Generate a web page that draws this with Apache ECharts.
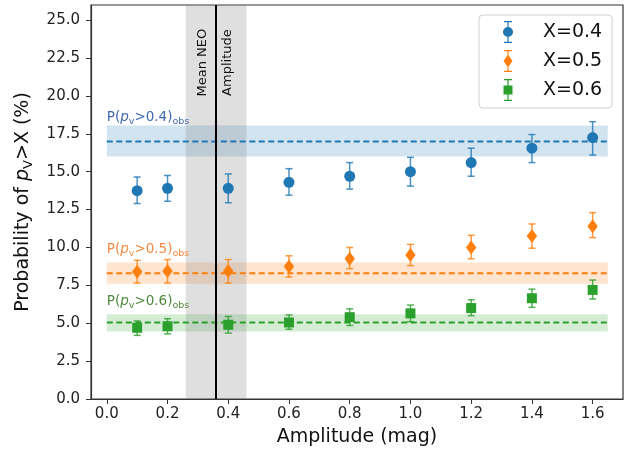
<!DOCTYPE html>
<html><head><meta charset="utf-8">
<script src="https://cdn.jsdelivr.net/npm/echarts@6/dist/echarts.min.js"></script>
<style>html,body{margin:0;padding:0;background:#fff}#c{width:631px;height:451px}</style>
</head><body><div id="c"></div>
<script>
// ---- data ----
const amplitudes = [0.1, 0.2, 0.4, 0.6, 0.8, 1.0, 1.2, 1.4, 1.6];
const p04   = [13.75, 13.9, 13.9, 14.3, 14.7, 15.0, 15.6, 16.55, 17.25];
const p04Lo = [12.9, 13.05, 12.95, 13.45, 13.85, 14.05, 14.7, 15.6, 16.1];
const p04Hi = [14.65, 14.75, 14.85, 15.2, 15.6, 15.95, 16.55, 17.45, 18.3];
const p05   = [8.4, 8.45, 8.45, 8.75, 9.25, 9.5, 10.0, 10.75, 11.4];
const p05Lo = [7.65, 7.65, 7.65, 8.05, 8.6, 8.8, 9.25, 9.95, 10.65];
const p05Hi = [9.15, 9.2, 9.2, 9.45, 10.0, 10.2, 10.8, 11.55, 12.3];
const p06   = [4.7, 4.8, 4.9, 5.05, 5.4, 5.65, 6.0, 6.65, 7.2];
const p06Lo = [4.2, 4.3, 4.35, 4.6, 4.85, 5.1, 5.5, 6.05, 6.6];
const p06Hi = [5.15, 5.3, 5.45, 5.55, 5.95, 6.2, 6.55, 7.25, 7.85];
const seriesNames = ['X=0.4', 'X=0.5', 'X=0.6'];
const obsThresholds = ['0.4', '0.5', '0.6'];
const obsVal = [17.0, 8.3, 5.05];
const obsLo  = [16.0, 7.6, 4.45];
const obsHi  = [18.05, 9.0, 5.6];
const obsRange = [0, 1.65];
const obsLabelY = [18.6, 9.85, 6.45];
const neoMean = 0.36;
const neoRange = [0.26, 0.46];
const xTicks = [0.0, 0.2, 0.4, 0.6, 0.8, 1.0, 1.2, 1.4, 1.6];
const yTicks = [0, 2.5, 5, 7.5, 10, 12.5, 15, 17.5, 20, 22.5, 25];

// ---- styles ----
const colors = ['#1f77b4', '#ff7f0e', '#2ca02c'];
const bandColors = ['rgba(31,119,180,0.2)', 'rgba(255,127,14,0.2)', 'rgba(44,160,44,0.2)'];
const labelColors = ['#4068b0', '#f58a42', '#4f8a3c'];
const markers = ['circle', 'diamond', 'square'];
const FONT = 'DejaVu Sans';
const legendIcons = [
  'path://M1,0H9V1.2H1Z M4.4,1.2H5.6V6H4.4Z M4.4,16H5.6V20.8H4.4Z M1,20.8H9V22H1Z M0,11A5,5 0 1,1 10,11A5,5 0 1,1 0,11Z',
  'path://M1,0H9V1.2H1Z M4.4,1.2H5.6V4.5H4.4Z M4.4,17.5H5.6V20.8H4.4Z M1,20.8H9V22H1Z M5,4.5L9.5,11L5,17.5L0.5,11Z',
  'path://M1,0H9V1.2H1Z M4.4,1.2H5.6V6.5H4.4Z M4.4,15.5H5.6V20.8H4.4Z M1,20.8H9V22H1Z M0.5,6.5H9.5V15.5H0.5Z'
];

const groups = [[p04, p04Lo, p04Hi], [p05, p05Lo, p05Hi], [p06, p06Lo, p06Hi]];

function makeRender(idx) {
  const col = colors[idx];
  return function (params, api) {
    const x = api.value(0);
    const p = api.coord([x, api.value(1)]);
    const pl = api.coord([x, api.value(2)]);
    const ph = api.coord([x, api.value(3)]);
    const cap = 3.5;
    const es = { stroke: col, lineWidth: 1.5, opacity: 0.8 };
    const children = [
      { type: 'line', shape: { x1: p[0], y1: pl[1], x2: p[0], y2: ph[1] }, style: es },
      { type: 'line', shape: { x1: p[0] - cap, y1: pl[1], x2: p[0] + cap, y2: pl[1] }, style: es },
      { type: 'line', shape: { x1: p[0] - cap, y1: ph[1], x2: p[0] + cap, y2: ph[1] }, style: es }
    ];
    const ms = { fill: col };
    if (markers[idx] === 'circle') {
      children.push({ type: 'circle', shape: { cx: p[0], cy: p[1], r: 5.5 }, style: ms });
    } else if (markers[idx] === 'diamond') {
      children.push({ type: 'polygon', shape: { points: [[p[0], p[1] - 7], [p[0] + 5.2, p[1]], [p[0], p[1] + 7], [p[0] - 5.2, p[1]]] }, style: ms });
    } else {
      children.push({ type: 'rect', shape: { x: p[0] - 5, y: p[1] - 5, width: 10, height: 10 }, style: ms });
    }
    return { type: 'group', children };
  };
}

const labelRich = {
  n: { fontFamily: FONT, fontSize: 13.5, lineHeight: 18, verticalAlign: 'middle' },
  i: { fontFamily: FONT, fontSize: 13.5, lineHeight: 18, fontStyle: 'italic', verticalAlign: 'middle' },
  s: { fontFamily: FONT, fontSize: 9.5, lineHeight: 9, verticalAlign: 'bottom' }
};

const series = [];
// background bands and annotations
series.push({
  type: 'line', name: 'bands', data: [], silent: true, z: 1,
  markArea: {
    silent: true,
    data: obsVal.map((v, i) => [
      { coord: [obsRange[0], obsLo[i]], itemStyle: { color: bandColors[i] } },
      { coord: [obsRange[1], obsHi[i]] }
    ]).concat([[
      { xAxis: neoRange[0], itemStyle: { color: 'rgba(128,128,128,0.25)' } },
      { xAxis: neoRange[1] }
    ]])
  },
  markLine: {
    silent: true, symbol: 'none', label: { show: false },
    lineStyle: { color: '#000', width: 2, type: 'solid' },
    data: [{ xAxis: neoMean }]
  },
  markPoint: {
    silent: true, symbol: 'circle', symbolSize: 0,
    data: obsThresholds.map((t, i) => ({
      coord: [obsRange[0], obsLabelY[i]],
      label: {
        show: true, position: 'right', distance: 0,
        formatter: '{n|P(}{i|p}{s|v}{n|>' + t + ')}{s|obs}',
        color: labelColors[i], rich: labelRich
      }
    })).concat([
      { coord: [0.317, 22.2], label: { show: true, position: 'inside', rotate: 90, formatter: 'Mean NEO', color: '#111', fontFamily: FONT, fontSize: 13 } },
      { coord: [0.397, 22.2], label: { show: true, position: 'inside', rotate: 90, formatter: 'Amplitude', color: '#111', fontFamily: FONT, fontSize: 13 } }
    ])
  }
});
// dashed observed lines
obsVal.forEach((v, i) => {
  series.push({
    type: 'line', name: 'obs' + obsThresholds[i], silent: true, z: 2,
    data: [[obsRange[0], v], [obsRange[1], v]],
    symbol: 'none',
    lineStyle: { color: colors[i], width: 2, type: [6, 3.5] }
  });
});
// error bar points
groups.forEach((g, i) => {
  series.push({
    type: 'custom', name: seriesNames[i], z: 5,
    renderItem: makeRender(i),
    encode: { x: 0, y: [1, 2, 3] },
    itemStyle: { color: colors[i] },
    data: amplitudes.map((x, k) => [x, g[0][k], g[1][k], g[2][k]])
  });
});

const chart = echarts.init(document.getElementById('c'), null, { renderer: 'canvas' });
chart.setOption({
  animation: false,
  backgroundColor: '#fff',
  grid: { left: 91, right: 8, top: 5, bottom: 52, show: true, borderColor: '#333', borderWidth: 1.2, backgroundColor: 'transparent', outerBoundsMode: 'none' },
  legend: {
    left: 479, top: 15, orient: 'vertical',
    itemWidth: 10, itemHeight: 22, itemGap: 7,
    padding: [6, 10, 7, 24],
    backgroundColor: '#fff', borderColor: '#d0d0d0', borderWidth: 1, borderRadius: 4,
    formatter: name => '{t|' + name + '}',
    textStyle: { fontFamily: FONT, fontSize: 19, color: '#111', rich: { t: { fontFamily: FONT, fontSize: 19, color: '#111', padding: [0, 0, 0, 25] } } },
    selectedMode: false,
    data: seriesNames.map((n, i) => ({ name: n, icon: legendIcons[i], itemStyle: { color: colors[i] } }))
  },
  xAxis: {
    type: 'value', min: -0.052, max: 1.70,
    name: 'Amplitude (mag)', nameLocation: 'middle', nameGap: 29,
    nameTextStyle: { fontFamily: FONT, fontSize: 19, color: '#111' },
    axisLine: { show: true, onZero: false, lineStyle: { color: '#333', width: 1.2 } },
    axisTick: { show: true, length: 5, lineStyle: { color: '#333' }, customValues: xTicks },
    axisLabel: { fontFamily: FONT, fontSize: 15, color: '#222', margin: 8, customValues: xTicks, formatter: v => v.toFixed(1) },
    splitLine: { show: false }
  },
  yAxis: {
    type: 'value', min: 0, max: 26,
    name: '{n|Probability of }{i|p}{s|V}{n|>X (%)}', nameLocation: 'middle', nameGap: 56, nameRotate: 90,
    nameTextStyle: {
      color: '#111',
      rich: {
        n: { fontFamily: FONT, fontSize: 19, lineHeight: 24, verticalAlign: 'middle', color: '#111' },
        i: { fontFamily: FONT, fontSize: 19, lineHeight: 24, fontStyle: 'italic', verticalAlign: 'middle', color: '#111' },
        s: { fontFamily: FONT, fontSize: 13, lineHeight: 13, verticalAlign: 'bottom', color: '#111' }
      }
    },
    axisLine: { show: true, onZero: false, lineStyle: { color: '#333', width: 1.2 } },
    axisTick: { show: true, length: 5, lineStyle: { color: '#333' }, customValues: yTicks },
    axisLabel: { fontFamily: FONT, fontSize: 15, color: '#222', margin: 11, customValues: yTicks, formatter: v => v.toFixed(1) },
    splitLine: { show: false }
  },
  series
});
</script>
</body></html>
